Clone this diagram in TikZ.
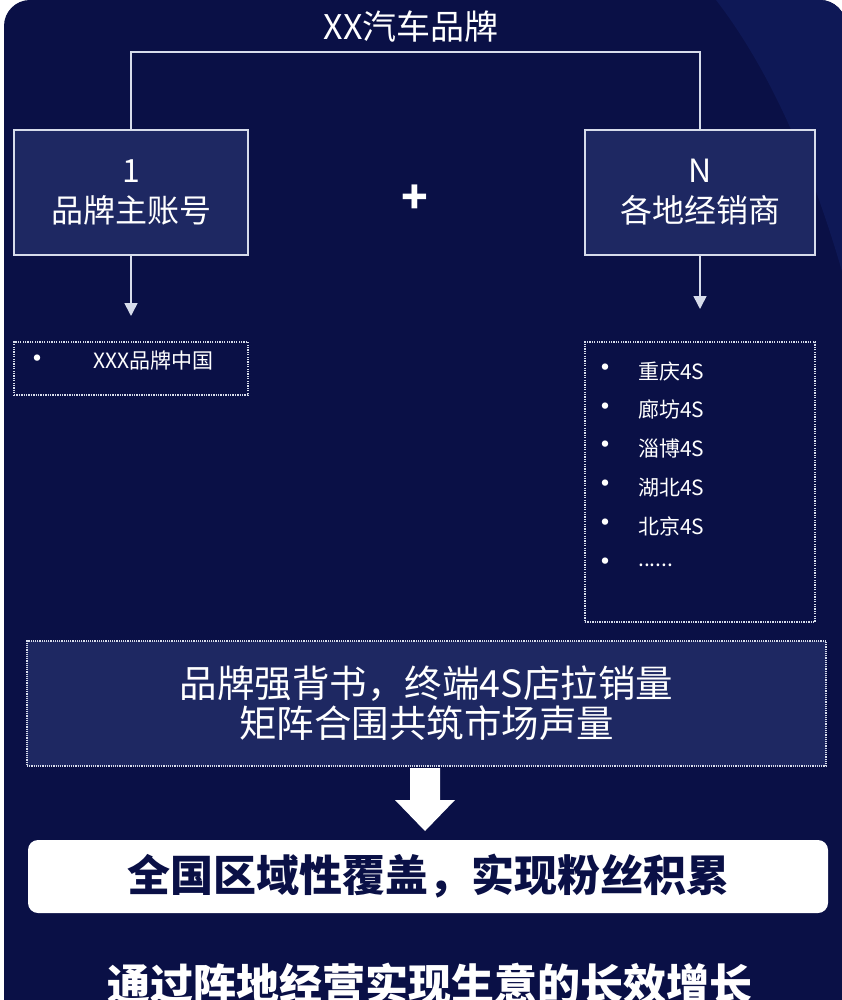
\documentclass[tikz,border=0pt]{standalone}
\usepackage{fontspec}
\setmainfont{Noto Sans CJK SC}
\usetikzlibrary{arrows.meta,positioning,calc}

\definecolor{navy}{RGB}{10,16,70}
\definecolor{navylight}{RGB}{14,24,86}
\definecolor{boxfill}{RGB}{30,40,98}
\definecolor{edge}{RGB}{215,220,235}
\newcommand{\moredots}{......}

\begin{document}
\begin{tikzpicture}[x=1pt,y=-1pt,
    acct/.style={draw=edge,line width=1.6pt,fill=boxfill,minimum width=234pt,minimum height=125pt,align=center,text=white,font=\fontsize{32}{40}\selectfont},
    listbox/.style={draw=edge,line width=1.2pt,dash pattern=on 1.3pt off 1.1pt,minimum width=234pt},
    item/.style={text=white,font=\fontsize{21}{22}\selectfont,anchor=west,inner sep=0pt},
    dot/.style={text=white,font=\fontsize{30}{30}\selectfont,inner sep=0pt},
    flow/.style={draw=edge,line width=1.6pt},
    tip/.style={-{Triangle[width=13pt,length=13pt]}}]
    \useasboundingbox (0,0) rectangle (842,1000);
    \clip (0,0) rectangle (842,1000);

    % Background
    \fill[white] (0,0) rectangle (842,1000);
    \begin{scope}
        \clip[rounded corners=26pt] (4,1040) -- (4,0) -- (846,0) -- (846,1040) -- cycle;
        \fill[navy] (0,0) rectangle (850,1000);
        \fill[navylight] (716,0) .. controls (770,70) and (815,170) .. (850,300) -- (850,0) -- cycle;
    \end{scope}

    % Brand and accounts
    \node[text=white,font=\fontsize{34}{36}\selectfont] (carbrand) at (411,27) {XX汽车品牌};
    \node[acct] (main) at (131,192.5) {1\\品牌主账号};
    \node[acct,minimum width=230pt] (dealer) at (700,192.5) {N\\各地经销商};
    \node[text=white,font=\fontsize{44}{46}\selectfont\bfseries] (plus) at (415,199) {+};
    \coordinate (bar) at (415,52);
    \draw[flow] (main.north) |- (bar) -| (dealer.north);

    % Account lists
    \coordinate (mainend) at (131,316);
    \coordinate (dealerend) at (700,309);
    \draw[flow,tip] (main.south) -- (mainend);
    \draw[flow,tip] (dealer.south) -- (dealerend);
    \node[listbox,minimum height=53pt] (mainlist) at (131,368.5) {};
    \node[dot] (mainbul) at (37,362) {•};
    \node[item] (mainitem) at (93,361) {XXX品牌中国};
    \node[listbox,minimum width=230pt,minimum height=280pt] (dealerlist) at (700,482) {};
    \foreach \name [count=\i from 0] in {重庆4S,廊坊4S,淄博4S,湖北4S,北京4S,\moredots} {
        \node[dot] (bul\i) at (605,371+38.8*\i) {•};
        \node[item] (city\i) at (638,371+38.8*\i) {\name};
    }

    % Result
    \node[draw=edge,line width=1.2pt,dash pattern=on 1.2pt off 1pt,fill=boxfill,minimum width=799pt,minimum height=125pt,align=center,text=white,font=\fontsize{37.5}{40}\selectfont] (backing) at (426.5,703.5) {品牌强背书，终端4S店拉销量\\矩阵合围共筑市场声量};
    \fill[white] (410,768) -- (440,768) -- (440,800) -- (455,800) -- (425,831) -- (395,800) -- (410,800) -- cycle;
    \node[fill=white,rounded corners=10pt,minimum width=800pt,minimum height=73pt,text=navy,font=\fontsize{43}{46}\selectfont\bfseries] (reach) at (428,876.5) {全国区域性覆盖，实现粉丝积累};
    \node[text=white,font=\fontsize{43}{46}\selectfont\bfseries] (growth) at (430,984) {通过阵地经营实现生意的长效增长};
\end{tikzpicture}
\end{document}
